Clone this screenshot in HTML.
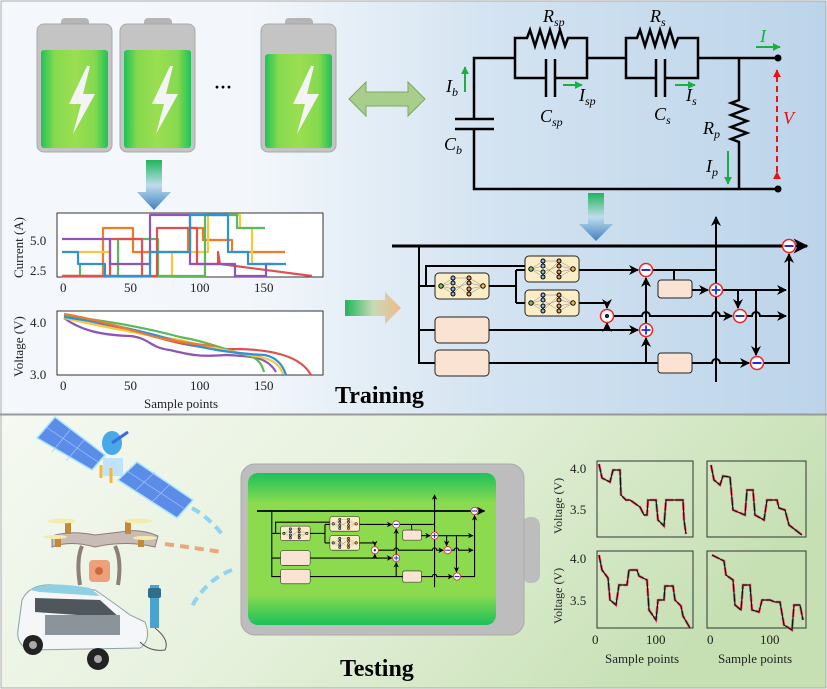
<!DOCTYPE html>
<html><head><meta charset="utf-8"><style>
html,body{margin:0;padding:0;background:#fff}
svg{display:block}
text{font-family:"Liberation Serif",serif}
</style></head><body>
<svg width="827" height="689" viewBox="0 0 827 689" xmlns="http://www.w3.org/2000/svg">
<defs>
<linearGradient id="topbg" x1="0" x2="1" y1="0" y2="0"><stop offset="0" stop-color="#f4f7fb"/><stop offset="0.3" stop-color="#f3f7fb"/><stop offset="0.6" stop-color="#d3e3f1"/><stop offset="1" stop-color="#bcd4ea"/></linearGradient>
<linearGradient id="botbg" x1="0" x2="1" y1="0" y2="0.3"><stop offset="0" stop-color="#f5f9f2"/><stop offset="0.5" stop-color="#e6f1dc"/><stop offset="1" stop-color="#c6e0b4"/></linearGradient>
<linearGradient id="batg" x1="0" x2="1"><stop offset="0" stop-color="#1fc25a"/><stop offset="0.2" stop-color="#86d94e"/><stop offset="0.5" stop-color="#9bde52"/><stop offset="0.8" stop-color="#86d94e"/><stop offset="1" stop-color="#1fc25a"/></linearGradient>
<linearGradient id="downar" x1="0" x2="0" y1="0" y2="1"><stop offset="0" stop-color="#1fb55a"/><stop offset="0.5" stop-color="#bfdcec"/><stop offset="1" stop-color="#3f80c2"/></linearGradient>
<linearGradient id="rightar" x1="0" x2="1"><stop offset="0" stop-color="#1fb55a"/><stop offset="0.5" stop-color="#c8d9b8"/><stop offset="1" stop-color="#f0bb8a"/></linearGradient>
<linearGradient id="bigbat" x1="0" x2="0" y1="0" y2="1"><stop offset="0" stop-color="#1cc05a"/><stop offset="0.2" stop-color="#8cdb4f"/><stop offset="0.8" stop-color="#8cdb4f"/><stop offset="1" stop-color="#1cc05a"/></linearGradient>
<marker id="ah" viewBox="0 0 10 10" refX="9" refY="5" markerWidth="5" markerHeight="5" orient="auto"><path d="M0,0 L10,5 L0,10 L3,5z" fill="#000"/></marker>
<marker id="ahg" viewBox="0 0 10 10" refX="9" refY="5" markerWidth="4" markerHeight="4" orient="auto"><path d="M0,0 L10,5 L0,10z" fill="#1aae45"/></marker>
<marker id="ahr" viewBox="0 0 10 10" refX="9" refY="5" markerWidth="4" markerHeight="4" orient="auto"><path d="M0,0 L10,5 L0,10z" fill="#e11"/></marker>
<g id="nn">
 <rect x="0" y="0" width="54" height="26" rx="4" fill="#fbeec7" stroke="#222" stroke-width="1"/>
 <g stroke="#888" stroke-width="0.5"><path d="M6,13 L18,5 M6,13 L18,10 M6,13 L18,16 M6,13 L18,21 M18,5 L34,5 M18,10 L34,21 M18,21 L34,5 M18,16 L34,10 M34,5 L48,13 M34,21 L48,13 M34,10 L48,13 M34,16 L48,13"/></g>
 <circle cx="6" cy="13" r="2.2" fill="#8bc06a"/><circle cx="18" cy="5" r="2" fill="#8fb3da"/><circle cx="18" cy="10" r="2" fill="#8fb3da"/><circle cx="18" cy="16" r="2" fill="#8fb3da"/><circle cx="18" cy="21" r="2" fill="#8fb3da"/><circle cx="34" cy="5" r="2" fill="#e49a6e"/><circle cx="34" cy="10" r="2" fill="#e49a6e"/><circle cx="34" cy="16" r="2" fill="#e49a6e"/><circle cx="34" cy="21" r="2" fill="#e49a6e"/><circle cx="48" cy="13" r="2.2" fill="#f0c24a"/>
</g>
<g id="mn"><circle r="6.5" fill="#fff" stroke="#e22" stroke-width="1.5"/><line x1="-4.5" x2="4.5" stroke="#1a2de0" stroke-width="2"/></g>
<g id="pl"><circle r="6.5" fill="#fff" stroke="#e22" stroke-width="1.5"/><path d="M-4.5,0H4.5M0,-4.5V4.5" stroke="#1a2de0" stroke-width="1.8"/></g>
<g id="dt"><circle r="6.5" fill="#fff" stroke="#e22" stroke-width="1.5"/><circle r="1.5" fill="#1a2de0"/></g>
<g id="bd" fill="none" stroke="#000">
 <line x1="392" y1="246" x2="807" y2="246" stroke-width="3" marker-end="url(#ah)"/>
 <line x1="716" y1="382" x2="716" y2="217" stroke-width="2" marker-end="url(#ah)"/>
 <g stroke-width="2">
 <path d="M419,246V363H435 M419,286H435 M419,330H435 M426,286V266H525"/>
 <path d="M488,286H516 M516,270V303 M516,270H525 M516,303H525"/>
 <path d="M579,270H638" marker-end="url(#ah)"/>
 <path d="M652,270H716"/>
 <path d="M674,270V280"/>
 <path d="M692,290H708" marker-end="url(#ah)"/>
 <path d="M722,290H786" marker-end="url(#ah)"/>
 <path d="M738,290V308" marker-end="url(#ah)"/>
 <path d="M756,290V355" marker-end="url(#ah)"/>
 <path d="M579,303H607V308" marker-end="url(#ah)"/>
 <path d="M607,330V323" marker-end="url(#ah)"/>
 <path d="M613,316H642a4,4 0 0 1 8,0H712a4,4 0 0 1 8,0H732" marker-end="url(#ah)"/>
 <path d="M747,316H752a4,4 0 0 1 8,0H786" marker-end="url(#ah)"/>
 <path d="M488,330H638" marker-end="url(#ah)"/>
 <path d="M646,363V338" marker-end="url(#ah)"/>
 <path d="M646,323V278" marker-end="url(#ah)"/>
 <path d="M488,363H658"/>
 <path d="M692,363H712a4,4 0 0 1 8,0H749" marker-end="url(#ah)"/>
 <path d="M764,363H789V254" marker-end="url(#ah)"/>
 </g>
 <use href="#nn" x="435" y="273"/><use href="#nn" x="525" y="256"/><use href="#nn" x="525" y="290"/>
 <g fill="#fbe3d3" stroke="#222" stroke-width="1"><rect x="435" y="317" width="54" height="26" rx="4"/><rect x="435" y="350" width="54" height="26" rx="4"/><rect x="658" y="280" width="34" height="18" rx="3"/><rect x="658" y="353" width="34" height="20" rx="3"/></g>
 <use href="#mn" x="646" y="270"/><use href="#dt" x="607" y="316"/><use href="#pl" x="646" y="330"/><use href="#pl" x="716" y="290"/><use href="#mn" x="740" y="316"/><use href="#mn" x="757" y="363"/><use href="#mn" x="789" y="246"/>
</g>
<g id="bat">
 <rect x="24" y="-6" width="28" height="10" rx="4" fill="#b5b5b5"/>
 <rect x="0" y="0" width="75" height="128" rx="7" fill="#c4c4c4" stroke="#a9a9a9"/>
 <rect x="4" y="26" width="67" height="98" rx="3" fill="url(#batg)"/>
</g>
<path id="bolt" d="M32,0 L14,38 L26,38 L18,68 L40,28 L28,28 L35,0z" fill="#f4f4f4"/>
</defs>

<rect width="827" height="689" fill="#fff"/>
<rect x="1" y="1" width="825" height="413" fill="url(#topbg)" stroke="#aaa"/>
<rect x="1" y="415" width="825" height="273" fill="url(#botbg)" stroke="#aaa"/>
<line x1="0" y1="414.5" x2="827" y2="414.5" stroke="#999" stroke-width="2"/>

<!-- batteries -->
<use href="#bat" x="37" y="24"/><use href="#bolt" x="55" y="66"/>
<use href="#bat" x="120" y="24"/><use href="#bolt" x="138" y="66"/>
<g transform="translate(261,24)"><rect x="24" y="-6" width="28" height="10" rx="4" fill="#b5b5b5"/><rect x="0" y="0" width="75" height="128" rx="7" fill="#c4c4c4" stroke="#a9a9a9"/><rect x="4" y="30" width="67" height="94" rx="3" fill="url(#batg)"/></g>
<use href="#bolt" x="279" y="66"/>
<text x="214" y="93" font-size="18" font-weight="bold">···</text>
<path d="M349,99 L366,82 V92 H408 V82 L425,99 L408,116 V106 H366 V116z" fill="#a7cf8b" stroke="#7aa85e"/>

<!-- down arrows -->
<path d="M146,160 H162 V192 H171 L154,210 L137,192 H146z" fill="url(#downar)"/>
<path d="M588,193 H604 V224 H613 L596,241 L579,224 H588z" fill="url(#downar)"/>
<path d="M345,300 H385 V292 L401,308 L385,324 V316 H345z" fill="url(#rightar)"/>

<!-- circuit -->
<g fill="none" stroke="#000" stroke-width="2.5">
 <path d="M474,119 V58 H515 M474,129 V189 H778"/>
 <path d="M455,119H494 M455,129H494"/>
 <path d="M515,58 V38 H527 l3,-8 l5,16 l5,-16 l5,16 l5,-16 l5,16 l5,-16 l5,16 l3,-8 H587 V78 H555 M546,78 H515 V58"/>
 <path d="M546,59V97 M555,59V97"/>
 <path d="M587,58 H626 V38 H637 l3,-8 l5,16 l5,-16 l5,16 l5,-16 l5,16 l5,-16 l5,16 l3,-8 H698 V78 H665 M656,78 H626 V58"/>
 <path d="M656,59V97 M665,59V97"/>
 <path d="M698,58 H778 M739,58 V100 l-8,3 l16,6 l-16,6 l16,6 l-16,6 l16,6 l-16,6 l8,3 V189"/>
</g>
<circle cx="778" cy="58" r="3.5"/><circle cx="778" cy="189" r="3.5"/>
<path d="M777,172V70" stroke="#e11" stroke-width="2" stroke-dasharray="6,4" fill="none" marker-end="url(#ahr)" marker-start="url(#ahr)"/>
<g stroke="#1aae45" stroke-width="2" fill="none">
 <path d="M756,47H780" marker-end="url(#ahg)"/>
 <path d="M563,85H582" marker-end="url(#ahg)"/>
 <path d="M675,85H695" marker-end="url(#ahg)"/>
 <path d="M465,92V67" marker-end="url(#ahg)"/>
 <path d="M728,151V184" marker-end="url(#ahg)"/>
</g>
<g font-style="italic" font-size="18">
 <text x="543" y="22">R<tspan font-size="12" dy="4">sp</tspan></text>
 <text x="650" y="22">R<tspan font-size="12" dy="4">s</tspan></text>
 <text x="540" y="122">C<tspan font-size="12" dy="4">sp</tspan></text>
 <text x="654" y="120">C<tspan font-size="12" dy="4">s</tspan></text>
 <text x="444" y="150">C<tspan font-size="12" dy="4">b</tspan></text>
 <text x="446" y="92">I<tspan font-size="12" dy="4">b</tspan></text>
 <text x="579" y="101">I<tspan font-size="12" dy="4">sp</tspan></text>
 <text x="686" y="101">I<tspan font-size="12" dy="4">s</tspan></text>
 <text x="703" y="134">R<tspan font-size="12" dy="4">p</tspan></text>
 <text x="706" y="172">I<tspan font-size="12" dy="4">p</tspan></text>
 <text x="760" y="42" fill="#1aae45">I</text>
 <text x="783" y="124" fill="#e11">V</text>
</g>

<!-- current plot -->
<rect x="57" y="213" width="266" height="64" fill="#fff" stroke="#333"/>
<g fill="none" stroke-width="2.2" stroke-linejoin="round">
 <polyline stroke="#f07a2a" points="62,276 103,276 103,228 133,228 133,252 188,252 188,228 203,228 203,240 232,240 232,252 285,252"/>
 <polyline stroke="#f5c842" points="62,252 110,252 110,276 172,276 172,252 208,252 208,215 240,215 240,228 252,228 252,264 270,264"/>
 <polyline stroke="#5cb85c" points="62,276 80,276 80,264 80,276 118,276 118,239 158,239 158,276 205,276 205,215 237,215 237,228 265,228"/>
 <polyline stroke="#e05050" points="62,276 110,276 110,239 142,239 142,276 157,276 157,228 197,228 197,264 218,264 218,252 220,264 312,276"/>
 <polyline stroke="#8e55b5" points="62,239 110,239 110,264 150,264 150,215 190,215 190,264 235,264 235,276 266,276 266,264 275,264"/>
 <polyline stroke="#2d93d8" points="62,252 78,252 78,264 105,264 105,276 150,276 150,252 190,252 190,215 228,215 228,252 248,252 248,264 286,264"/>
</g>
<g font-size="13" fill="#222">
 <text x="30" y="245">5.0</text><text x="30" y="275">2.5</text>
 <text x="60" y="292">0</text><text x="124" y="292">50</text><text x="190" y="292">100</text><text x="254" y="292">150</text>
 <text x="30" y="327">4.0</text><text x="30" y="379">3.0</text>
 <text x="60" y="390">0</text><text x="124" y="390">50</text><text x="190" y="390">100</text><text x="254" y="390">150</text>
 <text x="144" y="408">Sample points</text>
 <text transform="translate(23,278) rotate(-90)">Current (A)</text>
 <text transform="translate(23,377) rotate(-90)">Voltage (V)</text>
</g>
<!-- voltage plot -->
<rect x="57" y="311" width="266" height="64" fill="#fff" stroke="#333"/>
<g fill="none" stroke-width="2.2">
 <path stroke="#e05050" d="M64,315 C90,320 120,330 150,335 C180,345 210,350 240,349 C270,350 300,355 311,375"/>
 <path stroke="#8e55b5" d="M64,318 C80,330 100,335 130,336 C150,338 150,348 170,350 C190,355 200,357 225,355 C255,356 268,358 276,372"/>
 <path stroke="#5cb85c" d="M64,316 C100,320 140,326 180,337 C210,342 230,352 250,356 C258,359 262,364 264,372"/>
 <path stroke="#f5c842" d="M64,318 C100,326 140,334 180,340 C210,348 240,353 260,357 C275,360 280,366 283,374"/>
 <path stroke="#2d93d8" d="M64,317 C100,322 140,330 180,342 C210,350 240,354 265,355 C278,358 283,366 286,375"/>
 <path stroke="#f07a2a" d="M64,314 C100,320 130,330 155,337 C180,342 200,345 215,346"/>
</g>
<text x="335" y="403" font-size="24" font-weight="bold">Training</text>

<use href="#bd"/>

<!-- bottom: big battery -->
<rect x="522" y="517" width="18" height="66" rx="8" fill="#bdbdbd"/>
<rect x="241" y="464" width="283" height="171" rx="14" fill="#bdbdbd" stroke="#aaa"/>
<rect x="248" y="473" width="248" height="152" rx="10" fill="url(#bigbat)"/>
<g transform="translate(257,511) scale(0.548,0.56) translate(-392,-246)"><use href="#bd"/></g>
<text x="340" y="676" font-size="24" font-weight="bold">Testing</text>

<!-- satellite -->
<g>
 <path d="M37,438 L55,417 L105,455 L92,470z" fill="#5b8de8" stroke="#a7e4ff" stroke-width="1.5"/>
 <path d="M118,480 L137,462 L193,500 L177,518z" fill="#5b8de8" stroke="#a7e4ff" stroke-width="1.5"/>
 <g stroke="#a9c8f5" stroke-width="0.6"><path d="M46,427 L98,462 M52,452 L70,430 M66,461 L84,440 M127,471 L185,509 M136,490 L155,472 M152,502 L170,484"/></g>
 <rect x="103" y="458" width="20" height="18" fill="#bfe3fb"/>
 <ellipse cx="112" cy="443" rx="10" ry="12" fill="#4aa7e8"/>
 <line x1="112" y1="443" x2="128" y2="432" stroke="#3a6be0" stroke-width="3"/>
 <path d="M101,465V478 M111,468V483" stroke="#f0b843" stroke-width="3"/>
</g>
<!-- drone -->
<g>
 <path d="M52,536 Q70,530 95,535 L120,532 Q140,528 158,536 L155,547 Q125,540 95,547 Q70,540 52,547z" fill="#c9bcb6" stroke="#8d7e77"/>
 <path d="M82,546 Q76,560 80,585 M115,546 Q122,560 118,585" stroke="#8d7e77" stroke-width="4" fill="none"/>
 <rect x="89" y="560" width="21" height="22" rx="4" fill="#eea07a"/><circle cx="99" cy="571" r="4" fill="#c86a40"/>
 <g fill="#c08a3a"><rect x="65" y="522" width="6" height="12"/><rect x="125" y="522" width="6" height="12"/><rect x="55" y="537" width="6" height="10"/><rect x="138" y="537" width="6" height="10"/></g>
 <g fill="#f3ebb0"><ellipse cx="62" cy="521" rx="14" ry="2.5"/><ellipse cx="138" cy="521" rx="14" ry="2.5"/><ellipse cx="55" cy="537" rx="12" ry="2"/><ellipse cx="145" cy="538" rx="12" ry="2"/></g>
</g>
<!-- car -->
<g>
 <path d="M18,630 L22,600 Q30,583 55,585 L95,590 Q110,600 130,615 L145,622 Q152,640 140,648 L30,650 Q16,645 18,630z" fill="#f4f6f7" stroke="#8fa0a8"/>
 <path d="M30,590 Q45,580 90,588 L100,596 L40,592z" fill="#8fd0e4"/>
 <path d="M35,598 L100,600 L120,618 L35,612z" fill="#50575c"/>
 <rect x="45" y="615" width="75" height="20" fill="#8b949a"/>
 <circle cx="33" cy="645" r="10" fill="#222"/><circle cx="33" cy="645" r="4" fill="#aaa"/>
 <circle cx="98" cy="659" r="11" fill="#222"/><circle cx="98" cy="659" r="4" fill="#aaa"/>
 <rect x="150" y="585" width="9" height="43" fill="#4aa3cf"/><rect x="148" y="588" width="13" height="10" rx="2" fill="#2d6f8d"/>
 <path d="M155,628 Q170,640 165,650 Q150,652 140,642" stroke="#555" fill="none"/>
</g>
<g fill="none" stroke-width="4" stroke-dasharray="9,6">
 <path d="M192,508 Q210,518 225,538" stroke="#8fd4f2"/>
 <path d="M165,544 Q195,548 222,552" stroke="#eca67e"/>
 <path d="M232,570 Q205,580 190,610" stroke="#8fd4f2"/>
</g>

<!-- result plots -->
<g font-size="13" fill="#222">
 <rect x="597" y="461" width="96" height="76" fill="none" stroke="#333"/>
 <rect x="707" y="461" width="99" height="76" fill="none" stroke="#333"/>
 <rect x="597" y="551" width="96" height="77" fill="none" stroke="#333"/>
 <rect x="707" y="551" width="99" height="77" fill="none" stroke="#333"/>
 <text x="570" y="473">4.0</text><text x="570" y="514">3.5</text>
 <text x="570" y="563">4.0</text><text x="570" y="605">3.5</text>
 <text x="592" y="644">0</text><text x="646" y="644">100</text>
 <text x="707" y="644">0</text><text x="760" y="644">100</text>
 <text x="605" y="663">Sample points</text><text x="718" y="663">Sample points</text>
 <text transform="translate(562,534) rotate(-90)" font-size="12">Voltage (V)</text>
 <text transform="translate(562,624) rotate(-90)" font-size="12">Voltage (V)</text>
</g>
<g fill="none" stroke-width="2">
 <g stroke="#f06070" stroke-width="2.6" stroke-dasharray="8,2">
 <polyline points="599,464 602,478 610,482 613,470 620,470 621,495 626,500 630,500 640,507 644,515 647,515 648,500 656,500 658,520 664,526 666,500 683,500 684,520 686,534"/>
 <polyline points="711,465 714,480 720,485 723,476 730,477 733,510 745,515 747,490 753,490 755,515 764,520 767,500 777,500 779,508 785,510 789,525 802,535"/>
 <polyline points="599,555 602,570 608,578 610,600 616,605 619,585 627,585 629,570 637,570 639,576 647,580 649,610 656,620 658,600 664,600 665,586 673,586 675,600 681,606 683,616 690,628"/>
 <polyline points="712,555 716,557 724,561 726,575 733,580 735,605 741,610 743,585 750,585 752,610 759,612 762,600 770,600 775,602 780,602 784,625 792,630 794,605 800,605 803,620"/>
 </g>
 <g stroke="#111" stroke-width="1.2">
 <polyline points="599,464 602,478 610,482 613,470 620,470 621,495 626,500 630,500 640,507 644,515 647,515 648,500 656,500 658,520 664,526 666,500 683,500 684,520 686,534"/>
 <polyline points="711,465 714,480 720,485 723,476 730,477 733,510 745,515 747,490 753,490 755,515 764,520 767,500 777,500 779,508 785,510 789,525 802,535"/>
 <polyline points="599,555 602,570 608,578 610,600 616,605 619,585 627,585 629,570 637,570 639,576 647,580 649,610 656,620 658,600 664,600 665,586 673,586 675,600 681,606 683,616 690,628"/>
 <polyline points="712,555 716,557 724,561 726,575 733,580 735,605 741,610 743,585 750,585 752,610 759,612 762,600 770,600 775,602 780,602 784,625 792,630 794,605 800,605 803,620"/>
 </g>
</g>
</svg>
</body></html>
